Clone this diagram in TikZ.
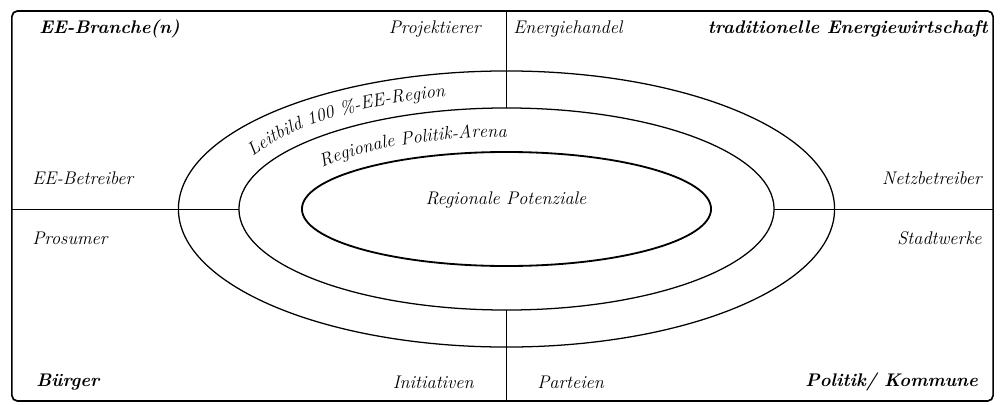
\documentclass[tikz,border=0pt]{standalone}
\usetikzlibrary{calc,positioning,shapes.geometric,decorations.text}
\newcommand{\lblfont}{\fontsize{13}{15}\selectfont\itshape}

\begin{document}
\begin{tikzpicture}[x=0.025cm, y=0.025cm, font=\lblfont,
	ring/.style={ellipse, draw, line width=0.9pt, inner sep=0pt, outer sep=0pt},
	lbl/.style={inner sep=0pt},
	head/.style={inner sep=0pt, font=\lblfont\bfseries},
	l_1/.style={line width=0.7pt}]
	\useasboundingbox (0,0) rectangle (1001,404);
	% frame and rings
	\node[draw, rounded corners=4pt, line width=1.2pt, inner sep=0pt, outer sep=0pt,
		minimum width=24.525cm, minimum height=9.75cm] (frame) at (502.5,198) {};
	\node[ring, minimum width=16.4cm, minimum height=6.9cm] (outer) at (506.5,195) {};
	\node[ring, minimum width=13.375cm, minimum height=5.05cm] (mid) at (506.5,195) {};
	\node[ring, line width=1.3pt, minimum width=10.225cm, minimum height=2.85cm] (inner) at (506.5,195) {};
	
	% quadrant lines
	\draw[l_1] (mid.north) -- (mid.north |- frame.north);
	\draw[l_1] (mid.south) -- (mid.south |- frame.south);
	\draw[l_1] (mid.west) -- (mid.west -| frame.west);
	\draw[l_1] (mid.east) -- (mid.east -| frame.east);
	
	% ring labels
	\path[decorate, decoration={text along path, text align=left,
		text={|\lblfont|Leitbild 100 {\%}-EE-Region}}]
		($(outer.center)+(153:285 and 115)$) arc[start angle=153, end angle=70, x radius=285, y radius=115];
	\path[decorate, decoration={text along path, text align=left,
		text={|\lblfont|Regionale Politik-Arena}}]
		($(outer.center)+(145:225 and 72)$) arc[start angle=145, end angle=60, x radius=225, y radius=72];
	\node[lbl] (pot) at (506,204) {Regionale Potenziale};
	
	% corners
	\node[head, anchor=west] (branche) at (39,375) {EE-Branche(n)};
	\node[head, anchor=east] (trad) at (988,375) {traditionelle Energiewirtschaft};
	\node[head, anchor=west] (buerger) at (36,22) {Bürger};
	\node[head, anchor=east] (politik) at (978,22) {Politik/ Kommune};
	
	% actors
	\node[lbl, anchor=east] (proj) at (481,375) {Projektierer};
	\node[lbl, anchor=west] (handel) at (513,375) {Energiehandel};
	\node[lbl, anchor=west] (betr) at (32,226) {EE-Betreiber};
	\node[lbl, anchor=west] (pros) at (32,166) {Prosumer};
	\node[lbl, anchor=east] (netz) at (982,226) {Netzbetreiber};
	\node[lbl, anchor=east] (stadt) at (982,166) {Stadtwerke};
	\node[lbl, anchor=east] (init) at (474,22) {Initiativen};
	\node[lbl, anchor=west] (part) at (537,22) {Parteien};
\end{tikzpicture}
\end{document}
